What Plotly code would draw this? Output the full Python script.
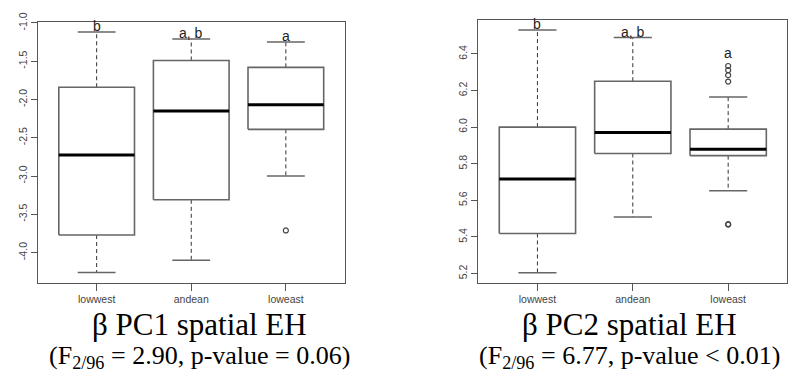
import plotly.graph_objects as go

# ---------------- data ----------------
categories = ["lowwest", "andean", "loweast"]

# Panel 1: beta PC1 spatial EH
pc1_lower_whisker = [-4.26, -4.10, -3.00]
pc1_q1 = [-3.77, -3.31, -2.39]
pc1_median = [-2.725, -2.15, -2.07]
pc1_q3 = [-1.84, -1.49, -1.58]
pc1_upper_whisker = [-1.12, -1.21, -1.25]
pc1_outliers = [[], [], [-3.71]]
pc1_letters = ["b", "a, b", "a"]
pc1_yticks = [-4.0, -3.5, -3.0, -2.5, -2.0, -1.5, -1.0]
pc1_yticklabels = ["-4.0", "-3.5", "-3.0", "-2.5", "-2.0", "-1.5", "-1.0"]

# Panel 2: beta PC2 spatial EH
pc2_lower_whisker = [5.204, 5.509, 5.652]
pc2_q1 = [5.419, 5.856, 5.844]
pc2_median = [5.717, 5.970, 5.879]
pc2_q3 = [6.000, 6.251, 5.989]
pc2_upper_whisker = [6.530, 6.489, 6.164]
pc2_outliers = [[], [], [5.467, 5.470, 6.249, 6.284, 6.311, 6.334]]
pc2_letters = ["b", "a, b", "a"]
pc2_yticks = [5.2, 5.4, 5.6, 5.8, 6.0, 6.2, 6.4]
pc2_yticklabels = ["5.2", "5.4", "5.6", "5.8", "6.0", "6.2", "6.4"]

titles = ["\u03b2 PC1 spatial EH", "\u03b2 PC2 spatial EH"]
subtitles = ["(F<sub>2/96</sub> = 2.90, p-value = 0.06)",
             "(F<sub>2/96</sub> = 6.77, p-value &lt; 0.01)"]

# ---------------- style ----------------
BOX_HALF = 0.4
CAP_HALF = 0.2
BOX_COLOR = "#666666"
FRAME_COLOR = "#555555"
TICK_FONT = dict(family="Liberation Sans, Arial", size=10.5, color="#444444")

fig = go.Figure()


def add_panel(xa, ya, lw, q1, med, q3, uw, outl):
    for i, cat in enumerate(categories):
        x = i + 1
        # whiskers (dashed)
        for a, b in ((q1[i], lw[i]), (q3[i], uw[i])):
            fig.add_trace(go.Scatter(x=[x, x], y=[a, b], mode="lines",
                                     line=dict(color="#333333", width=1, dash="4px,3px"),
                                     xaxis=xa, yaxis=ya, showlegend=False, hoverinfo="skip"))
        # caps
        for v in (lw[i], uw[i]):
            fig.add_trace(go.Scatter(x=[x - CAP_HALF, x + CAP_HALF], y=[v, v], mode="lines",
                                     line=dict(color=BOX_COLOR, width=1.5),
                                     xaxis=xa, yaxis=ya, showlegend=False, hoverinfo="skip"))
        # box
        fig.add_trace(go.Scatter(
            x=[x - BOX_HALF, x + BOX_HALF, x + BOX_HALF, x - BOX_HALF, x - BOX_HALF],
            y=[q1[i], q1[i], q3[i], q3[i], q1[i]], mode="lines",
            fill="toself", fillcolor="white",
            line=dict(color=BOX_COLOR, width=1.6),
            xaxis=xa, yaxis=ya, showlegend=False, hoverinfo="skip"))
        # median
        fig.add_trace(go.Scatter(x=[x - BOX_HALF, x + BOX_HALF], y=[med[i], med[i]], mode="lines",
                                 line=dict(color="black", width=3),
                                 xaxis=xa, yaxis=ya, showlegend=False, hoverinfo="skip"))
        # outliers
        if outl[i]:
            fig.add_trace(go.Scatter(x=[x] * len(outl[i]), y=outl[i], mode="markers",
                                     marker=dict(symbol="circle-open", size=5,
                                                 color="#444444", line=dict(width=1.2)),
                                     xaxis=xa, yaxis=ya, showlegend=False, hoverinfo="skip"))


add_panel("x", "y", pc1_lower_whisker, pc1_q1, pc1_median, pc1_q3, pc1_upper_whisker, pc1_outliers)
add_panel("x2", "y2", pc2_lower_whisker, pc2_q1, pc2_median, pc2_q3, pc2_upper_whisker, pc2_outliers)

annotations = []
for xr, yr, letters, uw, outl in (("x", "y", pc1_letters, pc1_upper_whisker, pc1_outliers),
                                  ("x2", "y2", pc2_letters, pc2_upper_whisker, pc2_outliers)):
    for i, lab in enumerate(letters):
        top = max([uw[i]] + outl[i])
        shift = -4 if top == uw[i] else 3
        annotations.append(dict(x=i + 1, y=top, xref=xr, yref=yr, text=lab, showarrow=False,
                                yanchor="bottom", yshift=shift,
                                font=dict(family="Liberation Sans, Arial", size=14, color="#222222")))

W, H = 790, 374
centers = [199, 629]
for c, t, s in zip(centers, titles, subtitles):
    annotations.append(dict(x=c / W, y=1 - 323 / H, xref="paper", yref="paper", text=t,
                            showarrow=False, xanchor="center", yanchor="middle",
                            font=dict(family="Liberation Serif, Times New Roman", size=31, color="black")))
    annotations.append(dict(x=c / W, y=1 - 357 / H, xref="paper", yref="paper", text=s,
                            showarrow=False, xanchor="center", yanchor="middle",
                            font=dict(family="Liberation Serif, Times New Roman", size=26, color="black")))

xaxis_common = dict(range=[0.38, 3.62], tickmode="array", tickvals=[1, 2, 3], ticktext=categories,
                    showline=True, mirror=True, linecolor=FRAME_COLOR, linewidth=1.3,
                    ticks="outside", ticklen=7, tickcolor=FRAME_COLOR, tickwidth=1,
                    showgrid=False, zeroline=False, tickfont=TICK_FONT, fixedrange=True)
yaxis_common = dict(showline=True, mirror=True, linecolor=FRAME_COLOR, linewidth=1.3,
                    ticks="outside", ticklen=6, tickcolor=FRAME_COLOR, tickwidth=1,
                    showgrid=False, zeroline=False, tickfont=TICK_FONT, tickangle=-90,
                    tickmode="array", fixedrange=True)

fig.update_layout(
    width=W, height=H, margin=dict(l=0, r=0, t=0, b=0),
    paper_bgcolor="white", plot_bgcolor="white",
    xaxis=dict(domain=[38 / W, 344.5 / W], anchor="y", **xaxis_common),
    yaxis=dict(domain=[1 - 280 / H, 1 - 12.5 / H], anchor="x", range=[-4.39, -0.99],
               tickvals=pc1_yticks, ticktext=pc1_yticklabels, **yaxis_common),
    xaxis2=dict(domain=[478.3 / W, 787.3 / W], anchor="y2", **xaxis_common),
    yaxis2=dict(domain=[1 - 280 / H, 1 - 10.7 / H], anchor="x2", range=[5.151, 6.583],
                tickvals=pc2_yticks, ticktext=pc2_yticklabels, **yaxis_common),
    annotations=annotations,
)

fig.write_html("out.html")
